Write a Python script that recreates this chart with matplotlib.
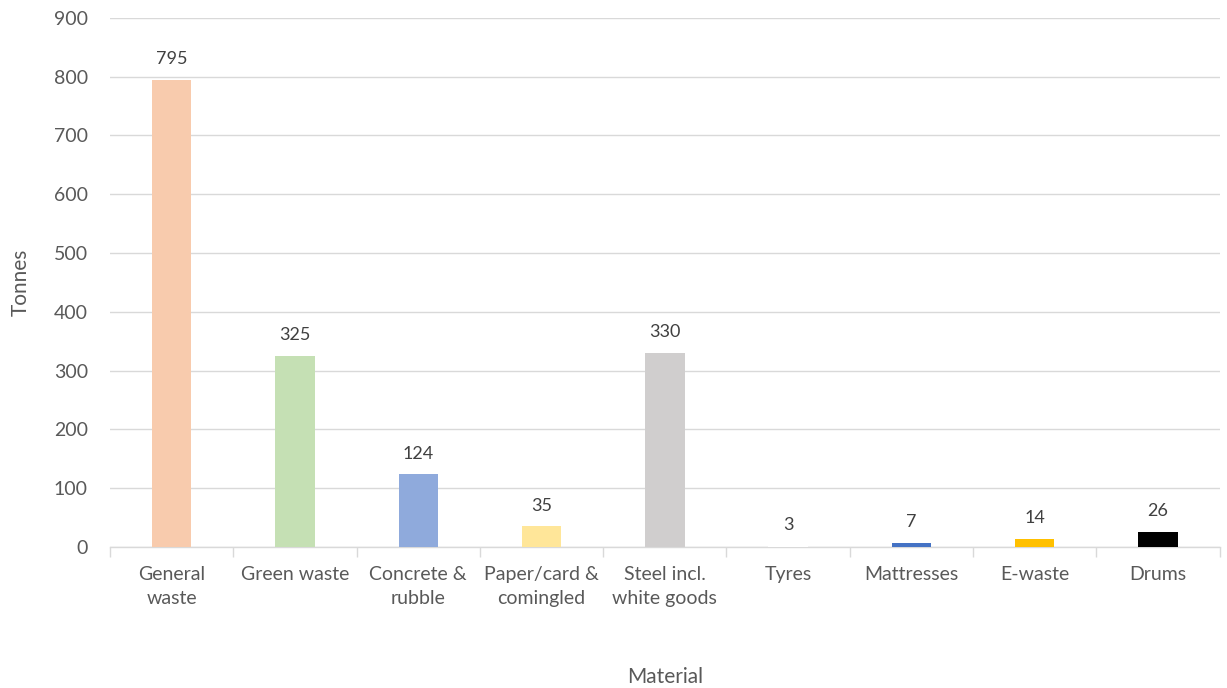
import matplotlib.pyplot as plt
import numpy as np

# Tonnes collected by material
materials = ["General\nwaste", "Green waste", "Concrete &\nrubble", "Paper/card &\ncomingled",
             "Steel incl.\nwhite goods", "Tyres", "Mattresses", "E-waste", "Drums"]
tonnes = [795, 325, 124, 35, 330, 3, 7, 14, 26]
colors = ["#F8CBAD", "#C5E0B4", "#8FAADC", "#FFE699", "#D0CECE",
          "#FFFFFF", "#4472C4", "#FFC000", "#000000"]

plt.rcParams['font.family'] = ['Lato', 'DejaVu Sans']
text_color = "#595959"
grid_color = "#D9D9D9"

fig = plt.figure(figsize=(12.27, 6.88), dpi=100)
ax = fig.add_axes([0.0897, 0.205, 0.9043, 0.769])

x = np.arange(len(materials))
ax.bar(x, tonnes, width=0.32, color=colors, zorder=3)

# value labels above each bar
for xi, v in zip(x, tonnes):
    ax.annotate(str(v), (xi, v), xytext=(0, 9), textcoords="offset points",
                ha="center", va="bottom", fontsize=13, color="#404040")

ax.set_xlim(-0.5, len(materials) - 0.5)
ax.set_ylim(0, 900)
ax.set_yticks(range(0, 901, 100))
ax.yaxis.grid(True, color=grid_color, linewidth=1, zorder=0)

ax.set_xticks(x)
ax.set_xticklabels(materials, fontsize=14, color=text_color, linespacing=1.45)
ax.set_xticks(np.arange(-0.5, len(materials)), minor=True)
ax.tick_params(axis="x", which="major", length=0, pad=14)
ax.tick_params(axis="x", which="minor", length=7, color=grid_color, width=1)
ax.tick_params(axis="y", length=0, pad=16, labelsize=14, labelcolor=text_color)

for side in ["top", "right", "left"]:
    ax.spines[side].set_visible(False)
ax.spines["bottom"].set_color(grid_color)
ax.spines["bottom"].set_linewidth(1)

fig.text(0.5 * (0.0897 + 0.994), 0.016, "Material", fontsize=15, color=text_color,
         ha="center", va="center")
fig.text(0.017, 0.59, "Tonnes", fontsize=15, color=text_color,
         ha="center", va="center", rotation=90)

fig.savefig("out.png", dpi=100, facecolor="white")
